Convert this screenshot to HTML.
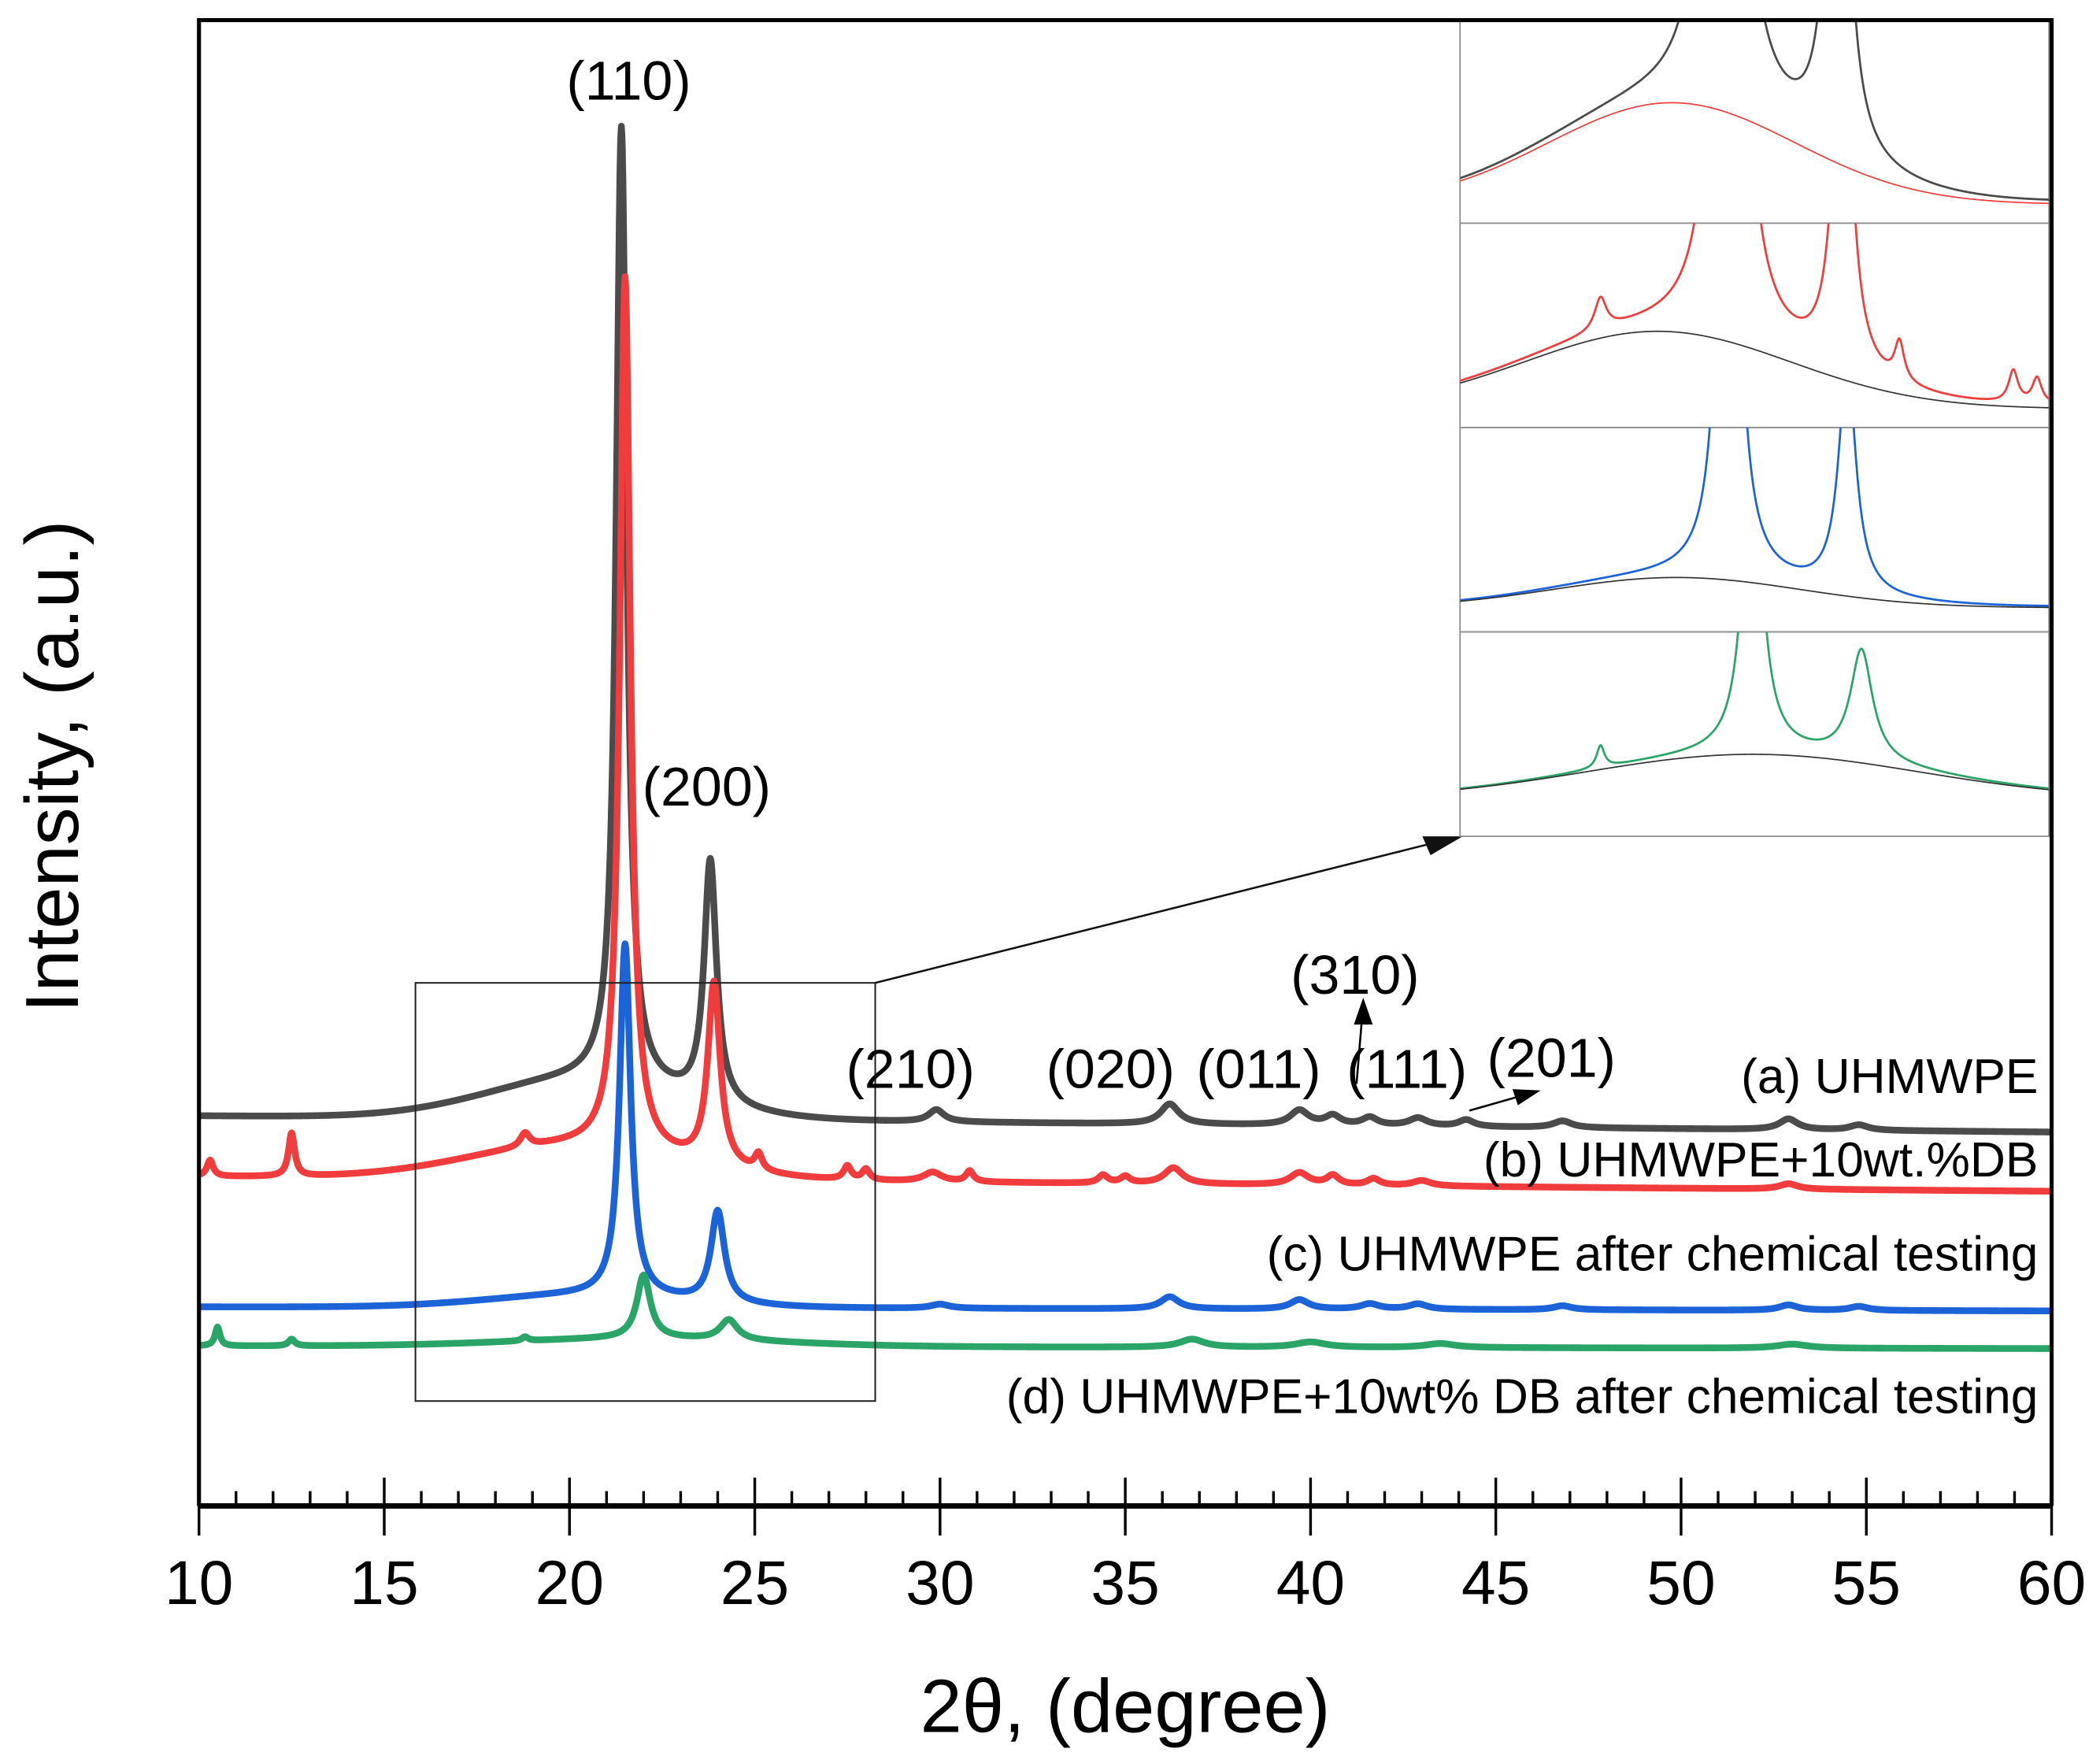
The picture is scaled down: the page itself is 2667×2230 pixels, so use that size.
<!DOCTYPE html>
<html><head><meta charset="utf-8"><style>
html,body{margin:0;padding:0;background:#fff;}
svg{display:block;font-family:"Liberation Sans",sans-serif;}
</style></head><body>
<svg id="chart" width="2667" height="2230" viewBox="0 0 1562 1306" preserveAspectRatio="none" xmlns="http://www.w3.org/2000/svg">
<rect x="0" y="0" width="1562" height="1306" fill="#fff"/>
<g id="plot"></g>
</svg>
<script>
// ---- data ----
const xTicks = [10,15,20,25,30,35,40,45,50,55,60];
const seriesNames = ["a","b","c","d"];
const seriesColors = ["#4b4b4b","#f03c3c","#1c63d8","#2ba468"];
// vertical stacking offsets (intensity units) at 10° and 60°
const offsetStart = [290,245,148,119];
const offsetEnd = [278,234,145,117];
// peaks: [position, height, half-width]
const peaksA = [[21.4,712,0.17],[23.8,180,0.2],[20.3,28,2.6],[29.9,9,0.25],[36.2,15,0.3],[39.7,11,0.3],[40.6,7,0.25],[41.6,6,0.25],[42.9,6,0.3],[44.2,5,0.25],[46.8,5,0.3],[52.9,8,0.3],[54.8,4,0.3]];
const peaksB = [[21.5,650,0.17],[23.9,136,0.2],[20.0,24,2.8],[10.3,12,0.1],[12.5,32,0.1],[18.8,10,0.15],[25.1,12,0.12],[27.5,10,0.12],[28.0,8,0.12],[29.8,7,0.3],[30.8,8,0.12],[34.4,6,0.15],[35.0,5,0.15],[36.3,12,0.3],[39.7,9,0.3],[40.6,7,0.2],[41.7,5,0.2],[43.0,4,0.3],[52.9,4,0.3]];
const peaksC = [[21.5,262,0.18],[24.0,68,0.22],[20.4,9,2.6],[30.0,3,0.3],[36.2,9,0.3],[39.7,7,0.3],[41.6,4,0.3],[42.9,4,0.3],[46.8,3,0.3],[52.9,4,0.3],[54.8,3,0.3]];
const peaksD = [[22.0,47,0.22],[24.3,15,0.28],[22.0,6,3.5],[10.5,14,0.08],[12.5,5,0.1],[18.8,3,0.1],[36.8,6,0.4],[40.0,4,0.5],[43.5,3,0.5],[53.0,3,0.5]];
const humpA = [[20.3,28,2.6]];
const humpB = [[20.0,24,2.8]];
const humpC = [[20.4,9,2.6]];
const humpD = [[22.0,6,3.5]];
const peakLabels = ["(110)","(200)","(210)","(020)","(011)","(111)","(201)","(310)"];
const peakLabelX = [21.6,23.7,29.2,34.6,38.6,42.6,46.5,41.2];
const peakLabelY = [60,585,795,795,795,795,787,725];
const legendLabels = ["(a) UHMWPE","(b) UHMWPE+10wt.%DB","(c) UHMWPE after chemical testing","(d) UHMWPE+10wt% DB after chemical testing"];
const legendY = [800,862,932,1038];
const allPeaks = [peaksA,peaksB,peaksC,peaksD];
const allHumps = [humpA,humpB,humpC,humpD];
const insetScale = [2.7,2.4,2.5,5.5];
const insetPad = [14,14,18,28];

// ---- axes ----
const L=148,R=1526,T=15,AX=1120,XMIN=10,XMAX=60;
const xS = v => L + (v-XMIN)/(XMAX-XMIN)*(R-L);
const yBase = 1120;
const yS = v => yBase - v;
function profile(peaks, x){
  let s=0;
  for(const p of peaks){
    if(p[2]>1){ s += p[1]*Math.exp(-((x-p[0])**2)/(2*p[2]*p[2])); }
    else { const g=p[2]; s += p[1]*g*g/((x-p[0])**2+g*g); }
  }
  return s;
}
const NS="http://www.w3.org/2000/svg";
const g=document.getElementById('plot');
function mk(tag, attrs, parent){
  const e=document.createElementNS(NS,tag);
  for(const k in attrs) e.setAttribute(k,attrs[k]);
  (parent||g).appendChild(e); return e;
}
const defs=mk('defs',{});
const cp=mk('clipPath',{id:'pc'},defs); mk('rect',{x:L,y:T,width:R-L,height:AX-T},cp);

// series
seriesNames.forEach((n,i)=>{
  let d="";
  for(let x=XMIN;x<=XMAX+1e-9;x+=0.02){
    const off = offsetStart[i]+(offsetEnd[i]-offsetStart[i])*(x-XMIN)/(XMAX-XMIN);
    const v = off + profile(allPeaks[i],x);
    d += (d?"L":"M")+xS(x).toFixed(2)+" "+yS(v).toFixed(2);
  }
  const p=mk('path',{d:d,fill:'none',stroke:seriesColors[i],'stroke-width':5,'stroke-linejoin':'round','clip-path':'url(#pc)'});
  
  
});

// zoom box + arrow
const zb=mk('rect',{x:309,y:731,width:342,height:311,fill:'none',stroke:'#222','stroke-width':1.2});


const zl=mk('line',{x1:651,y1:731,x2:1062,y2:628,stroke:'#111','stroke-width':1.5});


const zh=mk('polygon',{points:'1088,622 1058,622 1064,636',fill:'#111'});



// inset
const IX0=1086, IX1=1524, IXMIN=15.84, IXMAX=28.25;
const panelTop=[15,166,318,470], panelBot=[166,318,470,622];
const ixS = v => IX0 + (v-IXMIN)/(IXMAX-IXMIN)*(IX1-IX0);
seriesNames.forEach((n,i)=>{
  const cpi=mk('clipPath',{id:'ic'+i},defs); mk('rect',{x:IX0,y:panelTop[i],width:IX1-IX0,height:panelBot[i]-panelTop[i]},cpi);
  const fr=mk('rect',{x:IX0,y:panelTop[i],width:IX1-IX0,height:panelBot[i]-panelTop[i],fill:'#fff',stroke:'#888','stroke-width':1});
  
  
  const base = panelBot[i]-insetPad[i];
  let d="", bd="";
  for(let x=IXMIN;x<=IXMAX+1e-9;x+=0.01){
    const v=profile(allPeaks[i],x), b=profile(allHumps[i],x);
    d += (d?"L":"M")+ixS(x).toFixed(2)+" "+(base-v*insetScale[i]).toFixed(2);
    bd += (bd?"L":"M")+ixS(x).toFixed(2)+" "+(base-b*insetScale[i]).toFixed(2);
  }
  const ip=mk('path',{d:d,fill:'none',stroke:seriesColors[i],'stroke-width':1.6,'clip-path':'url(#ic'+i+')'});
  
  
  const bp=mk('path',{d:bd,fill:'none',stroke:i===0?'#f03c3c':'#333','stroke-width':1,'clip-path':'url(#ic'+i+')'});
  
  
});

// frame
const fr=mk('path',{d:`M${L} ${AX}V${T}H${R}V${AX}`,fill:'none',stroke:'#000','stroke-width':3});


const xa=mk('line',{x1:L,y1:AX,x2:R,y2:AX,stroke:'#000','stroke-width':4});


for(let v=XMIN; v<=XMAX; v++){
  const major = (v%5===0);
  const t=mk('line',{x1:xS(v),x2:xS(v),y1:major?1099:1109,y2:major?1142:AX,stroke:'#000','stroke-width':2});
  
  
}
xTicks.forEach(v=>{
  const t=mk('text',{x:xS(v),y:1193,'font-size':46,'text-anchor':'middle',fill:'#000'});
  t.textContent=v;
  
  
});
const xt=mk('text',{x:837,y:1288,'font-size':56,'text-anchor':'middle',fill:'#000'});
xt.textContent="2θ, (degree)";


const yt=mk('text',{x:0,y:0,'font-size':56,'text-anchor':'middle',fill:'#000',transform:'translate(58,570) rotate(-90)'});
yt.textContent="Intensity, (a.u.)";



// peak labels
peakLabels.forEach((s,i)=>{
  const t=mk('text',{x:xS(peakLabelX[i]),y:peakLabelY[i]+14,'font-size':41,'text-anchor':'middle',fill:'#000'});
  t.textContent=s;
  
  
});
const a1=mk('line',{x1:1009,y1:806,x2:1013,y2:758,stroke:'#000','stroke-width':1.5});


const a1h=mk('polygon',{points:'1014,742 1007,762 1021,762',fill:'#000'});


const a2=mk('line',{x1:1093,y1:826,x2:1128,y2:816,stroke:'#000','stroke-width':1.5});


const a2h=mk('polygon',{points:'1146,811 1125,810 1129,822',fill:'#000'});



// legend labels
legendLabels.forEach((s,i)=>{
  const t=mk('text',{x:1516,y:legendY[i]+13,'font-size':36.5,'text-anchor':'end',fill:'#000'});
  t.textContent=s;
  
  
});
</script>
</body></html>
